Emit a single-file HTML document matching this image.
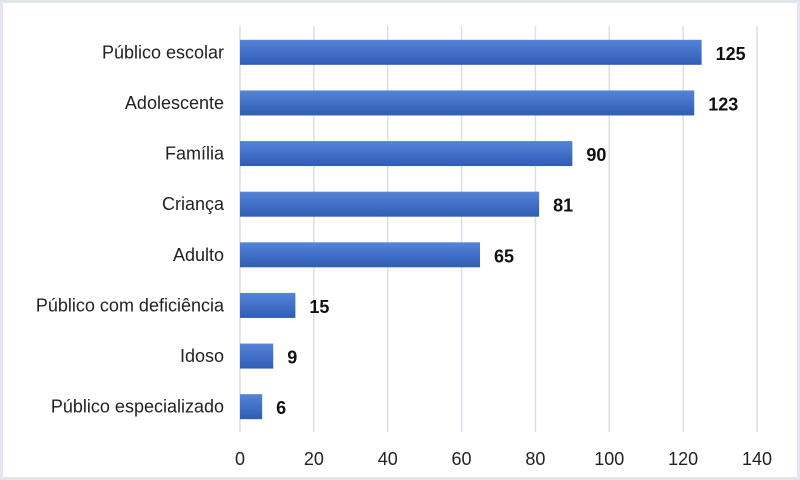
<!DOCTYPE html>
<html><head><meta charset="utf-8"><style>
body{margin:0;background:#fff}
svg{display:block;font-family:"Liberation Sans",Arial,sans-serif}
</style></head><body>
<svg id="c" width="800" height="480">
<defs><linearGradient id="g" x1="0" y1="0" x2="0" y2="1"><stop offset="0" stop-color="#5585d6"/><stop offset="0.5" stop-color="#4170c8"/><stop offset="1" stop-color="#2f5db0"/></linearGradient></defs>
<rect x="1.5" y="1.5" width="797" height="477" fill="#fff" stroke="#e3e6ec" stroke-width="3"/>
</svg>
<script>
const categories=["Público escolar","Adolescente","Família","Criança","Adulto","Público com deficiência","Idoso","Público especializado"];
const values=[125,123,90,81,65,15,9,6];
const ticks=[0,20,40,60,80,100,120,140];
const svg=document.getElementById('c');const NS='http://www.w3.org/2000/svg';
const x0=240,x1=757,maxV=140,plotTop=27,plotBottom=432;
const xs=v=>x0+(x1-x0)*v/maxV;
const band=(plotBottom-plotTop)/categories.length;
function mk(t,a,p){const e=document.createElementNS(NS,t);for(const k in a)e.setAttribute(k,a[k]);(p||svg).appendChild(e);return e;}
ticks.forEach(t=>{
const l=mk('line',{x1:xs(t),x2:xs(t),y1:plotTop-1,y2:plotBottom,stroke:'#dcdfe8','stroke-width':1.5});


const tx=mk('text',{x:xs(t),y:465,'text-anchor':'middle','font-size':18,fill:'#222'});tx.textContent=t;


});
categories.forEach((c,i)=>{
const cy=plotTop+band*(i+0.5);
const r=mk('rect',{x:x0,y:cy-12.5,width:xs(values[i])-x0,height:25,fill:'url(#g)'});


const lb=mk('text',{x:224,y:cy+6,'text-anchor':'end','font-size':18,fill:'#222'});lb.textContent=c;


const vl=mk('text',{x:xs(values[i])+14,y:cy+7.5,'font-size':18,'font-weight':'bold',fill:'#111'});vl.textContent=values[i];


});
</script>
</body></html>
